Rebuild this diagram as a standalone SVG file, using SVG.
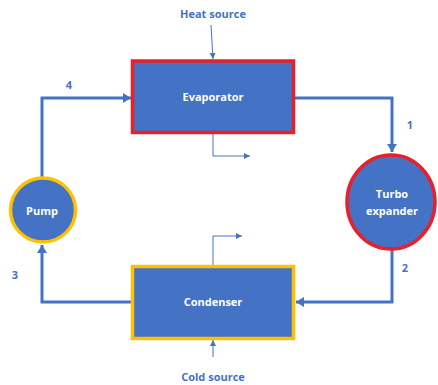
<svg xmlns="http://www.w3.org/2000/svg" width="438" height="385" viewBox="0 0 438 385">
<style>
.node{fill:#4472C4}
.hot{stroke:#E8202A;stroke-width:3.5}
.cold{stroke:#FFC000;stroke-width:3.5}
.nt{font-family:"Open Sans","Liberation Sans",sans-serif;font-weight:bold;font-size:11px;fill:#FFFFFF;text-anchor:middle}
.lbl{font-family:"Open Sans","Liberation Sans",sans-serif;font-weight:bold;font-size:11px;fill:#4472C4;text-anchor:middle}
.pipe{fill:none;stroke:#4472C4;stroke-width:3}
.thin{fill:none;stroke:#4472C4;stroke-width:1}
</style>
<defs>
<marker id="big" markerWidth="10" markerHeight="10" refX="8" refY="5" orient="auto" markerUnits="userSpaceOnUse"><path d="M0,0 L8,5 L0,10 Z" fill="#4472C4"/></marker>
<marker id="small" markerWidth="8" markerHeight="8" refX="6" refY="3" orient="auto" markerUnits="userSpaceOnUse"><path d="M0,0 L6,3 L0,6 Z" fill="#4472C4"/></marker>
</defs>
<g id="connectors">
<path class="pipe" d="M42,177 V98 H131" marker-end="url(#big)"/>
<path class="pipe" d="M295,98 H392 V152" marker-end="url(#big)"/>
<path class="pipe" d="M392,250 V302 H296" marker-end="url(#big)"/>
<path class="pipe" d="M131,302 H42 V245" marker-end="url(#big)"/>
<path class="thin" d="M211,25 L213,59" marker-end="url(#small)"/>
<path class="thin" d="M213,134 V156 H250" marker-end="url(#small)"/>
<path class="thin" d="M213,265 V236 H242" marker-end="url(#small)"/>
<path class="thin" d="M213,357 V340" marker-end="url(#small)"/>
</g>
<g id="evaporator">
<rect class="node hot" x="132.5" y="61" width="161" height="71.5"/>
<text class="nt" x="213" y="101">Evaporator</text>
</g>
<g id="condenser">
<rect class="node cold" x="132.5" y="266.5" width="161" height="72"/>
<text class="nt" x="213" y="306">Condenser</text>
</g>
<g id="turbo">
<ellipse class="node hot" cx="391" cy="202" rx="44" ry="47"/>
<text class="nt" x="392" y="198">Turbo</text>
<text class="nt" x="392" y="215">expander</text>
</g>
<g id="pump">
<ellipse class="node cold" cx="43" cy="210" rx="32.5" ry="32"/>
<text class="nt" x="42" y="215">Pump</text>
</g>
<g id="labels">
<text class="lbl" x="213" y="18">Heat source</text>
<text class="lbl" x="213" y="381">Cold source</text>
<text class="lbl" x="69" y="89">4</text>
<text class="lbl" x="410" y="129">1</text>
<text class="lbl" x="405" y="272">2</text>
<text class="lbl" x="15" y="279">3</text>
</g>
</svg>
